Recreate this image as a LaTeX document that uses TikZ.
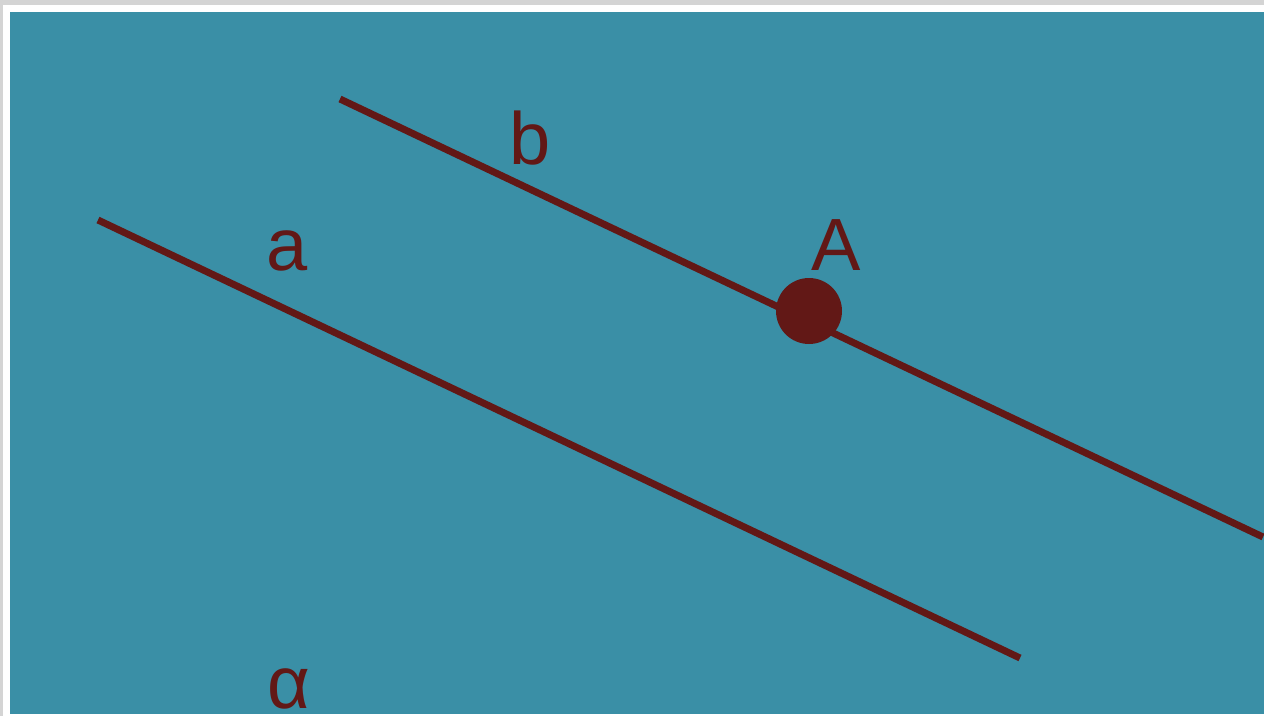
\documentclass[tikz,border=0pt]{standalone}
\usepackage{fontspec}
\setmainfont{Liberation Sans}
\definecolor{teal1}{HTML}{3A8FA6}
\definecolor{dred}{HTML}{621816}
\definecolor{lgray}{HTML}{D4D4D4}
\begin{document}
\begin{tikzpicture}[x=1pt,y=-1pt,
  seg/.style={draw=dred,line width=7pt},
  lbl/.style={text=dred,anchor=base,inner sep=0pt,font=\fontsize{74}{80}\selectfont},
  dotpt/.style={circle,fill=dred,minimum size=66pt,inner sep=0pt}]
\useasboundingbox (0,0) rectangle (1264,716);
\fill[lgray] (0,0) rectangle (1264,716);
\fill[white] (3,5) rectangle (1264,716);
\fill[teal1] (10,12) rectangle (1264,714);
\coordinate (b1) at (340,99);
\coordinate (b2) at (1263,537);
\coordinate (a1) at (98,220);
\coordinate (a2) at (1020,658);
\draw[seg] (b1) -- (b2);
\draw[seg] (a1) -- (a2);
\node[dotpt] (A) at (809,311) {};
\node[lbl] (lb) at (530,164) {b};
\node[lbl] (lA) at (836,270) {A};
\node[lbl] (la) at (287,270) {a};
\node[lbl] (lal) at (289,708) {α};
\end{tikzpicture}
\end{document}
